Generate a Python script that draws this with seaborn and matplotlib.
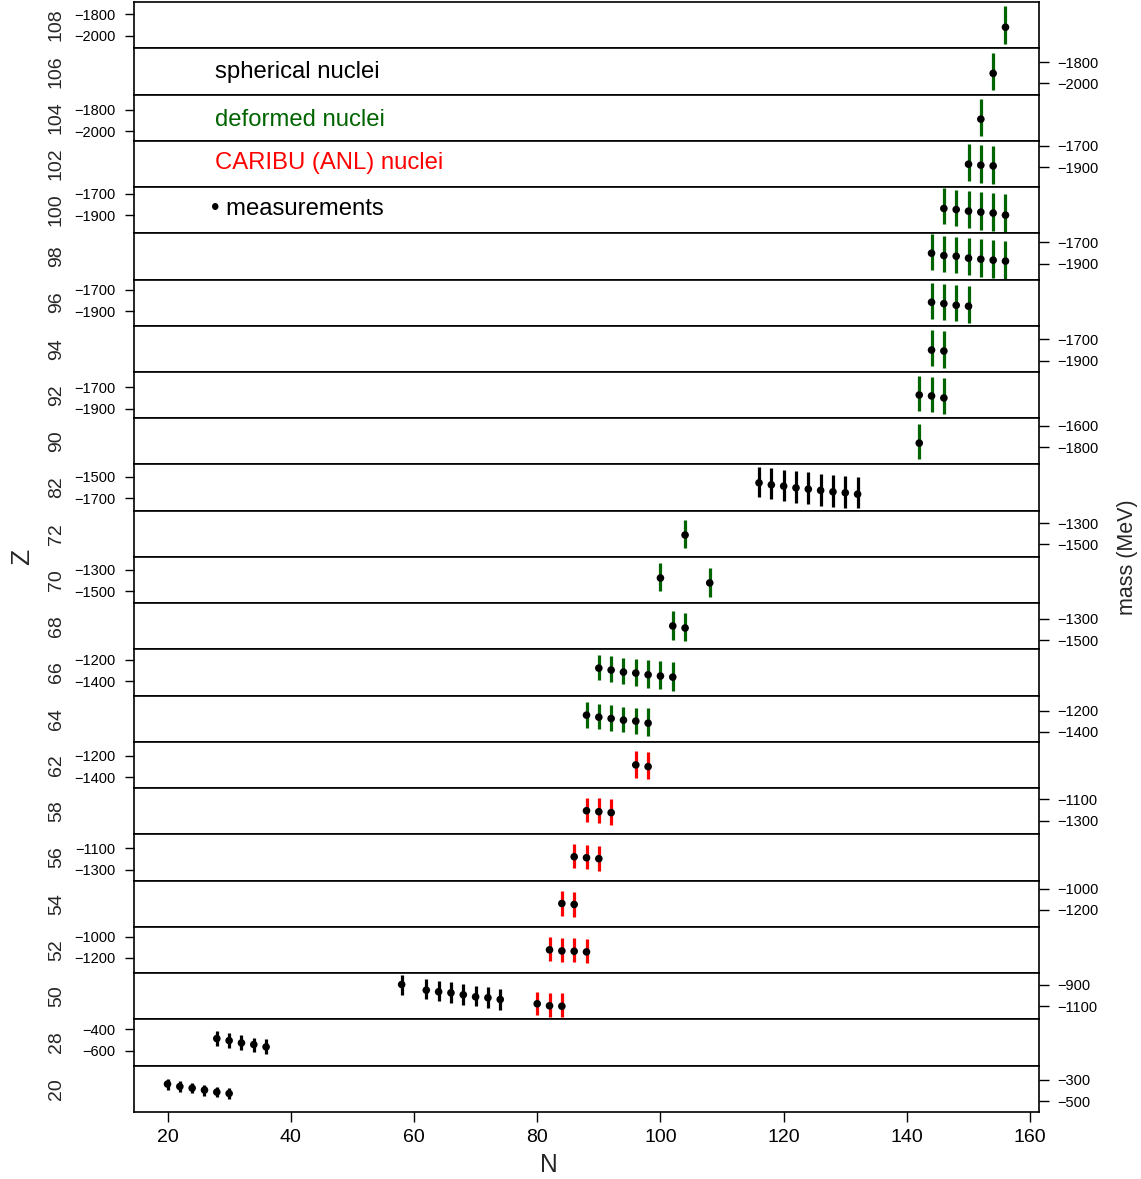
import matplotlib
matplotlib.use("Agg")
import matplotlib.pyplot as plt
import matplotlib.transforms as mtransforms
import pandas as pd
import seaborn as sns

# -----------------------------------
# Panel rows (top to bottom) and the upper tick of each mass scale
# -----------------------------------
z_rows = [108, 106, 104, 102, 100, 98, 96, 94, 92, 90, 82, 72,
          70, 68, 66, 64, 62, 58, 56, 54, 52, 50, 28, 20]
tick_top = [-1800, -1800, -1800, -1700, -1700, -1700, -1700, -1700, -1700, -1600, -1500, -1300,
            -1300, -1300, -1200, -1200, -1200, -1100, -1100, -1000, -1000, -900, -400, -300]
tick_step = 200
n_ticks = [20, 40, 60, 80, 100, 120, 140, 160]

# -----------------------------------
# Measurements: Z, N, measured mass, uncertainty band (hi / lo), group
# -----------------------------------
Z = ([108] + [106] + [104] + [102] * 3 + [100] * 6 + [98] * 7 + [96] * 4 + [94] * 2 + [92] * 3 + [90]
     + [82] * 9 + [72] + [70] * 2 + [68] * 2 + [66] * 7 + [64] * 6
     + [62] * 2 + [58] * 3 + [56] * 3 + [54] * 2 + [52] * 4
     + [50] * 8 + [50] * 3 + [28] * 5 + [20] * 6)
N = ([156] + [154] + [152] + [150, 152, 154] + [146, 148, 150, 152, 154, 156]
     + [144, 146, 148, 150, 152, 154, 156] + [144, 146, 148, 150] + [144, 146] + [142, 144, 146] + [142]
     + [116, 118, 120, 122, 124, 126, 128, 130, 132] + [104] + [100, 108] + [102, 104]
     + [90, 92, 94, 96, 98, 100, 102] + [88, 90, 92, 94, 96, 98]
     + [96, 98] + [88, 90, 92] + [86, 88, 90] + [84, 86] + [82, 84, 86, 88]
     + [58, 62, 64, 66, 68, 70, 72, 74] + [80, 82, 84] + [28, 30, 32, 34, 36] + [20, 22, 24, 26, 28, 30])
mass = ([-1919] + [-1906] + [-1887] + [-1871, -1880, -1887]
        + [-1837, -1847, -1862, -1871, -1880, -1899]
        + [-1803, -1825, -1831, -1849, -1859, -1868, -1877]
        + [-1815, -1828, -1843, -1852] + [-1799, -1808] + [-1771, -1780, -1799] + [-1762]
        + [-1556, -1575, -1587, -1603, -1615, -1627, -1640, -1649, -1662]
        + [-1412] + [-1378, -1424] + [-1368, -1387]
        + [-1278, -1296, -1315, -1324, -1340, -1352, -1362]
        + [-1243, -1262, -1275, -1290, -1299, -1318]
        + [-1287, -1303] + [-1206, -1215, -1224] + [-1178, -1187, -1196] + [-1140, -1149]
        + [-1124, -1134, -1137, -1143]
        + [-897, -950, -965, -975, -993, -1012, -1021, -1037] + [-1077, -1096, -1100]
        + [-487, -506, -528, -543, -565] + [-340, -363, -378, -396, -415, -428])
band_hi = ([-1725] + [-1713] + [-1697] + [-1681, -1693, -1700]
           + [-1647, -1663, -1672, -1684, -1693, -1703]
           + [-1625, -1638, -1650, -1660, -1669, -1679, -1691]
           + [-1632, -1644, -1653, -1663] + [-1609, -1625] + [-1597, -1603, -1616] + [-1581]
           + [-1407, -1422, -1437, -1450, -1459, -1472, -1481, -1491, -1500]
           + [-1269] + [-1237, -1284] + [-1232, -1247]
           + [-1153, -1169, -1181, -1193, -1203, -1216, -1225]
           + [-1122, -1137, -1150, -1163, -1172, -1181]
           + [-1160, -1169] + [-1084, -1091, -1100] + [-1060, -1069, -1079] + [-1022, -1032]
           + [-1007, -1012, -1016, -1021]
           + [-813, -850, -866, -876, -891, -907, -919, -935] + [-965, -972, -978]
           + [-416, -437, -456, -478, -493] + [-293, -316, -331, -350, -368, -381])
band_lo = ([-2074] + [-2062] + [-2049] + [-2027, -2043, -2055]
           + [-1983, -2005, -2020, -2036, -2046, -2058]
           + [-1959, -1975, -1990, -2005, -2021, -2031, -2040]
           + [-1968, -1980, -1992, -2005] + [-1952, -1967] + [-1924, -1934, -1948] + [-1911]
           + [-1687, -1711, -1727, -1743, -1758, -1774, -1780, -1790, -1795]
           + [-1534] + [-1496, -1559] + [-1496, -1512]
           + [-1393, -1412, -1427, -1449, -1459, -1474, -1487]
           + [-1359, -1374, -1390, -1402, -1418, -1434]
           + [-1408, -1418] + [-1308, -1324, -1340] + [-1287, -1296, -1312] + [-1256, -1265]
           + [-1231, -1236, -1240, -1246]
           + [-991, -1037, -1053, -1068, -1084, -1100, -1115, -1131] + [-1184, -1196, -1203]
           + [-556, -575, -596, -612, -634] + [-393, -412, -428, -447, -465, -477])
group = (["deformed"] * 29
         + ["spherical"] * 9 + ["deformed"] * 18
         + ["caribu"] * 14
         + ["spherical"] * 8 + ["caribu"] * 3 + ["spherical"] * 11)

colors = {"spherical": "black", "deformed": "#006400", "caribu": "#ff0000"}

df = pd.DataFrame({"Z": Z, "N": N, "mass": mass, "hi": band_hi, "lo": band_lo, "group": group})

# -----------------------------------
# Figure
# -----------------------------------
sns.set_theme(style="ticks")
plt.rcParams["font.family"] = ["Liberation Sans", "DejaVu Sans"]
W, H = 1141, 1179
fig, axes = plt.subplots(len(z_rows), 1, figsize=(W / 100, H / 100), dpi=100, sharex=True,
                         gridspec_kw=dict(hspace=0))
fig.subplots_adjust(left=134 / W, right=1039 / W, top=1 - 2 / H, bottom=1 - 1112 / H)

for i, (z, t) in enumerate(zip(z_rows, tick_top)):
    ax = axes[i]
    sub = df[df["Z"] == z]
    ax.vlines(sub["N"], sub["lo"], sub["hi"], colors=[colors[g] for g in sub["group"]],
              linewidth=2.3, zorder=2)
    sns.scatterplot(data=sub, x="N", y="mass", color="black", s=30, edgecolor="none",
                    legend=False, ax=ax, zorder=3)
    mid = (sub["hi"].max() + sub["lo"].min()) / 2
    ax.set_ylim(mid - 216, mid + 216)
    ax.set_xlim(14.56, 161.44)
    ax.set_xlabel("")
    ax.set_ylabel("")

    ticks = [t, t - tick_step]
    ax.set_yticks(ticks)
    ax.set_yticklabels([str(v).replace("-", "\u2212") for v in ticks])
    if i % 2 == 0:
        ax.tick_params(axis="y", left=True, right=False, labelleft=True, labelright=False,
                       length=6.8, width=1, pad=6.5, labelsize=10.5, colors="black")
    else:
        ax.tick_params(axis="y", left=False, right=True, labelleft=False, labelright=True,
                       length=7.2, width=1, pad=6, labelsize=10.5, colors="black")
    for sp in ax.spines.values():
        sp.set_visible(True)
        sp.set_linewidth(1.2)
        sp.set_color("black")

    trans = mtransforms.blended_transform_factory(fig.transFigure, ax.transAxes)
    ax.text(56.5 / W, 0.5, str(z), transform=trans, rotation=90, ha="center", va="center",
            fontsize=14)

    if i < len(z_rows) - 1:
        ax.tick_params(axis="x", bottom=False, labelbottom=False)

bottom = axes[-1]
bottom.set_xticks(n_ticks)
bottom.set_xticklabels([str(v) for v in n_ticks])
bottom.tick_params(axis="x", bottom=True, length=7.2, width=1, pad=5, labelsize=14, colors="black")

# axis titles
fig.text(22 / W, 1 - 557 / H, "Z", rotation=90, ha="center", va="center", fontsize=19)
fig.text(548.5 / W, 1 - 1164.5 / H, "N", ha="center", va="center", fontsize=17.7)
fig.text(1127 / W, 1 - 557 / H, "mass (MeV)", rotation=90, ha="center", va="center", fontsize=15.5)

# legend text
fig.text(215 / W, 1 - 78 / H, "spherical nuclei", color="black", fontsize=17.2, va="baseline")
fig.text(215 / W, 1 - 126 / H, "deformed nuclei", color=colors["deformed"], fontsize=17.2, va="baseline")
fig.text(215 / W, 1 - 169 / H, "CARIBU (ANL) nuclei", color=colors["caribu"], fontsize=17.2, va="baseline")
fig.text(211 / W, 1 - 215 / H, "\u2022 measurements", color="black", fontsize=17.2, va="baseline")

fig.savefig("out.png", dpi=100)
